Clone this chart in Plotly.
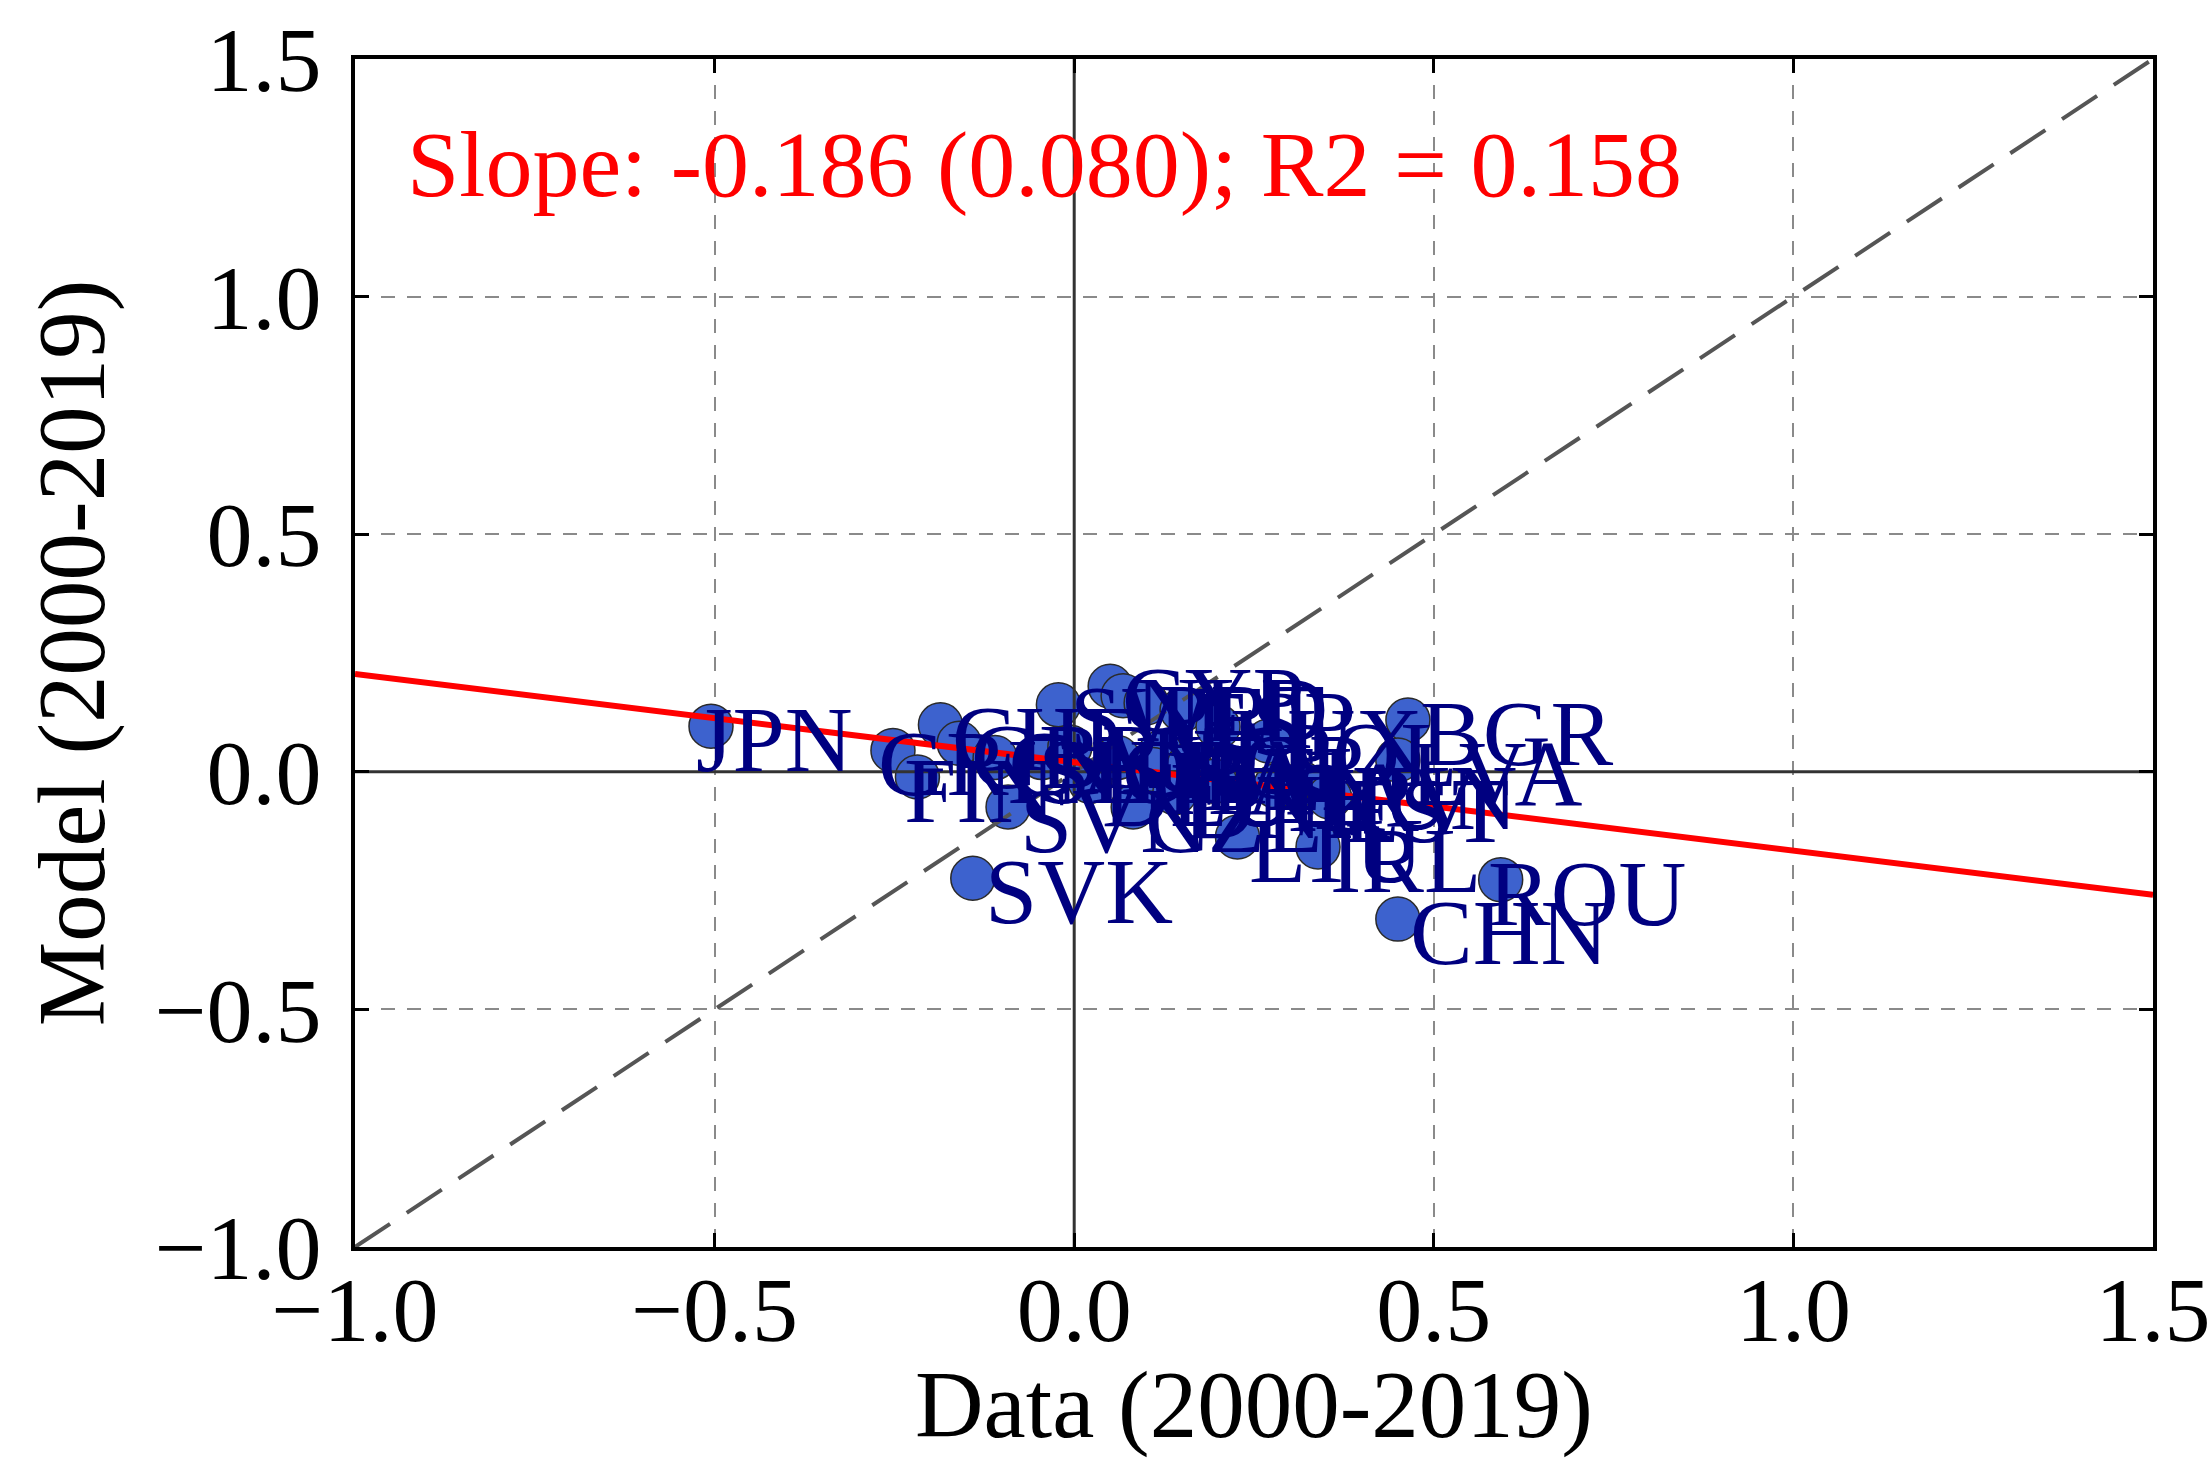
import plotly.graph_objects as go

# ---------------- data ----------------
countries = ["JPN", "GRC", "CHE", "FIN", "GBR", "ISL", "SVN", "SVK", "SWE", "NOR",
             "AUT", "DEU", "CYP", "NLD", "PRT", "ESP", "FRA", "KOR", "ITA", "BEL",
             "CZE", "DNK", "USA", "LUX", "POL", "HRV", "HUN", "EST", "LTU", "IRL",
             "BGR", "LVA", "CHN", "ROU"]
data_x = [-0.505, -0.252, -0.186, -0.218, -0.160, -0.110, -0.092, -0.141, -0.022, -0.045,
          -0.006, 0.022, 0.050, 0.068, 0.100, 0.150, 0.060, 0.120, 0.110, 0.160,
          0.082, 0.140, 0.195, 0.200, 0.270, 0.280, 0.317, 0.355, 0.227, 0.339,
          0.464, 0.450, 0.450, 0.593]
model_y = [0.096, 0.045, 0.099, -0.011, 0.060, 0.030, -0.074, -0.224, 0.141, 0.030,
           0.052, -0.020, 0.180, 0.160, 0.145, 0.130, 0.030, 0.040, 0.005, 0.015,
           -0.074, -0.044, -0.020, 0.095, 0.065, -0.030, -0.025, -0.053, -0.137, -0.158,
           0.109, 0.025, -0.310, -0.227]

fit_slope = -0.186
fit_intercept = 0.020
fit_se = 0.080
fit_r2 = 0.158

x_range = [-1.0, 1.5]
y_range = [-1.0, 1.5]
tick_vals = [-1.0, -0.5, 0.0, 0.5, 1.0, 1.5]

x_title = "Data (2000-2019)"
y_title = "Model (2000-2019)"

# ---------------- styling ----------------
FONT = "Liberation Serif, Times New Roman, serif"
FS_TICK = 92
FS_TEXT = 94
FS_TITLE = 95

# label placement (pixel offsets from the marker centre)
LABEL_XSHIFT = 10
LABEL_YSHIFT = -13
label_xshift_override = {"JPN": -17, "GRC": -17, "FIN": -15, "ROU": -15}

fig = go.Figure()

fig.add_trace(go.Scatter(
    x=data_x, y=model_y, mode="markers",
    marker=dict(size=44, color="#3D62CE", line=dict(color="#2a2a2a", width=1.5)),
    showlegend=False, hoverinfo="skip"))

# zero reference lines
fig.add_trace(go.Scatter(x=x_range, y=[0, 0], mode="lines",
                         line=dict(color="#333333", width=3), showlegend=False))
fig.add_trace(go.Scatter(x=[0, 0], y=y_range, mode="lines",
                         line=dict(color="#333333", width=3), showlegend=False))

# 45-degree line
fig.add_trace(go.Scatter(x=x_range, y=y_range, mode="lines",
                         line=dict(color="#555555", width=4, dash="42px,20px"),
                         showlegend=False))

# regression line
fit_y = [fit_intercept + fit_slope * v for v in x_range]
fig.add_trace(go.Scatter(x=x_range, y=fit_y, mode="lines",
                         line=dict(color="#ff0000", width=6), showlegend=False))

for c, xv, yv in zip(countries, data_x, model_y):
    fig.add_annotation(x=xv, y=yv, text=c, showarrow=False,
                       xanchor="left", yanchor="middle",
                       xshift=label_xshift_override.get(c, LABEL_XSHIFT), yshift=LABEL_YSHIFT,
                       font=dict(family=FONT, size=FS_TEXT, color="#000080"))

fig.add_annotation(x=-0.93, y=1.28, xref="x", yref="y",
                   text=f"Slope: {fit_slope:.3f} ({fit_se:.3f}); R2 = {fit_r2:.3f}",
                   showarrow=False, xanchor="left", yanchor="middle",
                   font=dict(family=FONT, size=FS_TEXT, color="#ff0000"))

axis_common = dict(
    tickvals=tick_vals, tickformat=".1f",
    showgrid=True, gridcolor="#8a8a8a", gridwidth=1.5, griddash="14px,12px",
    zeroline=False, showline=True, linecolor="black", linewidth=4,
    mirror="ticks", ticks="inside", ticklen=14, tickwidth=2.5, tickcolor="black",
    tickfont=dict(family=FONT, size=FS_TICK, color="black"),
    ticklabeloverflow="allow", automargin=False,
)

fig.update_xaxes(range=x_range,
                 title=dict(text=x_title, font=dict(family=FONT, size=FS_TITLE, color="black"), standoff=40),
                 ticklabelstandoff=-20, **axis_common)
fig.update_yaxes(range=y_range,
                 title=dict(text=y_title, font=dict(family=FONT, size=FS_TITLE, color="black"), standoff=19),
                 ticklabelstandoff=11, **axis_common)

fig.update_layout(
    width=2207, height=1458,
    margin=dict(l=355, r=54, t=59, b=211),
    paper_bgcolor="white", plot_bgcolor="white",
    showlegend=False,
    font=dict(family=FONT),
)

fig.write_html("out.html")
